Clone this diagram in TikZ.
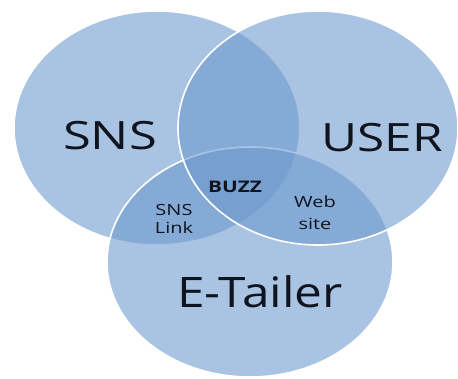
\documentclass[tikz,border=0pt]{standalone}
\usepackage{fontspec}
\usepackage{graphicx}
\setmainfont{Open Sans}
\usetikzlibrary{shapes.geometric}
\definecolor{vennblue}{RGB}{109,153,206}
\definecolor{labelink}{RGB}{15,20,30}
\newcommand{\stretchx}[2]{\scalebox{#1}[1]{#2}}
\tikzset{
  setbox/.style={ellipse, draw=white, line width=1.6pt, fill=vennblue,
    fill opacity=0.59, draw opacity=1, minimum width=286pt,
    minimum height=234pt, inner sep=0pt},
  biglabel/.style={anchor=base, inner sep=0pt, text=labelink, font=\fontsize{39}{44}\selectfont},
  smalllabel/.style={anchor=base, inner sep=0pt, text=labelink, font=\fontsize{15.4}{18}\selectfont}
}
\begin{document}
\begin{tikzpicture}[x=1pt,y=-1pt]
  \useasboundingbox (0,0) rectangle (458,379);
  % the three sets
  \node[setbox] (sns) at (157,128) {};
  \node[setbox, minimum height=230pt] (etailer) at (250,262) {};
  \node[setbox, minimum width=280pt] (user) at (318,128) {};
  % set names
  \node[biglabel] (snsname) at (110,150) {\stretchx{1.3}{SNS}};
  \node[biglabel] (username) at (382,152) {\stretchx{1.27}{USER}};
  \node[biglabel, font=\fontsize{42}{48}\selectfont] (etailername) at (260,308) {\stretchx{1.18}{E-Tailer}};
  % overlap names
  \node[smalllabel, font=\fontsize{16}{18}\bfseries] (buzz) at (235,193) {\stretchx{1.3}{BUZZ}};
  \node[smalllabel] (snslink1) at (174,216) {\stretchx{1.3}{SNS}};
  \node[smalllabel] (snslink2) at (174,234) {\stretchx{1.3}{Link}};
  \node[smalllabel] (website1) at (315,208) {\stretchx{1.3}{Web}};
  \node[smalllabel] (website2) at (315,230) {\stretchx{1.3}{site}};
\end{tikzpicture}
\end{document}
